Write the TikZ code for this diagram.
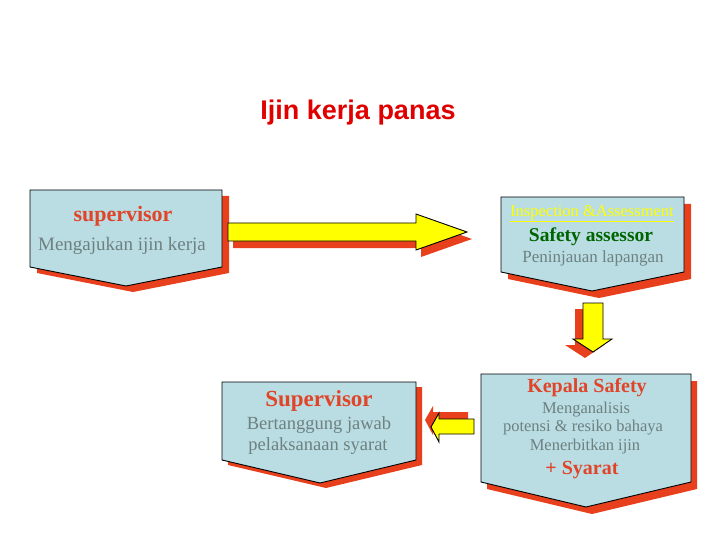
\documentclass[tikz,border=0pt]{standalone}
\usepackage{fontspec}
\setmainfont{Liberation Serif}
\newfontfamily\titlefont{Liberation Sans}
\definecolor{boxfill}{HTML}{B9DDE2}
\definecolor{shadred}{HTML}{E8401C}
\definecolor{graytxt}{HTML}{6E8080}
\definecolor{redtxt}{HTML}{E0452A}
\definecolor{greentxt}{HTML}{006400}
\definecolor{titlered}{HTML}{E00000}
\definecolor{arrowyel}{HTML}{FFFF00}
\tikzset{
  boxshape/.style={draw=black, line width=0.9pt, fill=boxfill, line join=miter},
  shadowshape/.style={fill=shadred, draw=none},
  arrowshape/.style={draw=black, line width=0.9pt, fill=arrowyel, line join=miter},
  headtxt/.style={font=\bfseries\fontsize{21}{24}\selectfont, text=redtxt, inner sep=0pt},
  bodytxt/.style={font=\fontsize{17}{20}\selectfont, text=graytxt, inner sep=0pt, align=center}
}
\begin{document}
\begin{tikzpicture}[x=1pt, y=-1pt]
\useasboundingbox[fill=white] (0,0) rectangle (720,540);

% title
\node[font=\titlefont\bfseries\fontsize{27}{30}\selectfont, text=titlered, inner sep=0pt] (title) at (358,113) {Ijin kerja panas};

% ---------- shapes: shadows ----------
\fill[shadowshape, shift={(7,6)}] (30,190) -- (222,190) -- (222,267) -- (126,286) -- (30,267) -- cycle;
\fill[shadowshape, shift={(7,7)}] (501,197) -- (684,197) -- (684,272) -- (592,291) -- (501,272) -- cycle;
\fill[shadowshape, shift={(6,5)}] (222,382) -- (416,382) -- (416,460) -- (320,483) -- (222,460) -- cycle;
\fill[shadowshape, shift={(6,7)}] (481,374) -- (691,374) -- (691,482) -- (586,507) -- (481,482) -- cycle;

% arrow shadows
\fill[shadowshape, shift={(5,7)}] (228,223) -- (416,223) -- (416,214) -- (467,232) -- (416,250) -- (416,241) -- (228,241) -- cycle;
\fill[shadowshape, shift={(-8,6)}] (583,303) -- (603,303) -- (603,339) -- (612,339) -- (593,352) -- (573,339) -- (583,339) -- cycle;
\fill[shadowshape, shift={(-6,-7)}] (474,419) -- (439,419) -- (439,413) -- (431,427) -- (439,442) -- (439,434) -- (474,434) -- cycle;

% ---------- boxes ----------
\draw[boxshape] (30,190) -- (222,190) -- (222,267) -- (126,286) -- (30,267) -- cycle;
\draw[boxshape] (501,197) -- (684,197) -- (684,272) -- (592,291) -- (501,272) -- cycle;
\draw[boxshape] (222,382) -- (416,382) -- (416,460) -- (320,483) -- (222,460) -- cycle;
\draw[boxshape] (481,374) -- (691,374) -- (691,482) -- (586,507) -- (481,482) -- cycle;

% ---------- block arrows ----------
\draw[arrowshape] (228,223) -- (416,223) -- (416,214) -- (467,232) -- (416,250) -- (416,241) -- (228,241) -- cycle;
\draw[arrowshape] (583,303) -- (603,303) -- (603,339) -- (612,339) -- (593,352) -- (573,339) -- (583,339) -- cycle;
\draw[arrowshape] (474,419) -- (439,419) -- (439,413) -- (431,427) -- (439,442) -- (439,434) -- (474,434) -- cycle;

% ---------- texts ----------
% box 1
\node[headtxt, font=\bfseries\fontsize{22}{24}\selectfont] (sup1) at (123,216) {supervisor};
\node[bodytxt, font=\fontsize{19}{22}\selectfont] (sup1b) at (122,246) {Mengajukan ijin kerja};

% box 2
\node[inner sep=0pt, text=arrowyel, font=\fontsize{16.5}{19}\selectfont] (insp) at (592,214) {\underline{Inspection \&Assessment}};
\node[inner sep=0pt, text=greentxt, font=\bfseries\fontsize{19.5}{22}\selectfont] (sa) at (591,237) {Safety assessor};
\node[bodytxt, font=\fontsize{17}{20}\selectfont] (pl) at (593,258) {Peninjauan lapangan};

% box 3
\node[headtxt, font=\bfseries\fontsize{23}{26}\selectfont] (sup2) at (319,401) {Supervisor};
\node[bodytxt, font=\fontsize{18.5}{21}\selectfont] (sup2b) at (319,425) {Bertanggung jawab};
\node[bodytxt, font=\fontsize{18.5}{21}\selectfont] (sup2c) at (318,446) {pelaksanaan syarat};

% box 4
\node[headtxt, font=\bfseries\fontsize{20}{23}\selectfont] (ks) at (587,388) {Kepala Safety};
\node[bodytxt, font=\fontsize{16.5}{19}\selectfont] (ks1) at (586,410) {Menganalisis};
\node[bodytxt, font=\fontsize{16.5}{19}\selectfont] (ks2) at (583,428) {potensi \& resiko bahaya};
\node[bodytxt, font=\fontsize{16.5}{19}\selectfont] (ks3) at (585,447) {Menerbitkan ijin};
\node[headtxt, font=\bfseries\fontsize{20}{23}\selectfont] (syarat) at (582,470) {+ Syarat};
\end{tikzpicture}
\end{document}
